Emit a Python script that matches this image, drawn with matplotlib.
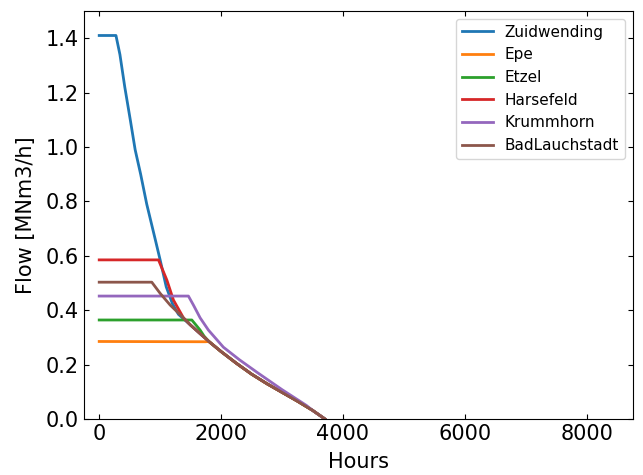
import matplotlib
matplotlib.use('Agg')
import matplotlib.pyplot as plt

# shared decline curve once the storages run out of capacity
common_h = [1300, 1500, 1800, 2000, 2250, 2500, 2750, 3000, 3250, 3500, 3705]
common_f = [0.385, 0.345, 0.285, 0.248, 0.205, 0.165, 0.13, 0.098, 0.066, 0.032, 0.0]

zuid_h = [0, 275, 340, 420, 510, 590, 680, 780, 920, 1000, 1100, 1200]
zuid_f = [1.41, 1.41, 1.34, 1.22, 1.10, 0.99, 0.90, 0.79, 0.66, 0.585, 0.486, 0.425]

epe_h = [0, 1740]
epe_f = [0.285, 0.284]

etzel_h = [0, 1520, 1656, 1720]
etzel_f = [0.364, 0.364, 0.327, 0.305]

hars_h = [0, 973, 1110, 1218, 1382]
hars_f = [0.585, 0.585, 0.511, 0.4375, 0.372]

krum_h = [0, 1464, 1546, 1656, 1792, 2038, 2300, 2600, 3000, 3400]
krum_f = [0.452, 0.452, 0.419, 0.372, 0.327, 0.264, 0.218, 0.17, 0.108, 0.05]

bad_h = [0, 863, 1000, 1164, 1382]
bad_f = [0.503, 0.503, 0.462, 0.419, 0.372]


def extend(h, f):
    # append the part of the shared curve after the last own point
    hh = list(h)
    ff = list(f)
    for x, y in zip(common_h, common_f):
        if x > hh[-1]:
            hh.append(x)
            ff.append(y)
    return hh, ff


series = [
    ('Zuidwending', zuid_h, zuid_f),
    ('Epe', epe_h, epe_f),
    ('Etzel', etzel_h, etzel_f),
    ('Harsefeld', hars_h, hars_f),
    ('Krummhorn', krum_h, krum_f),
    ('BadLauchstadt', bad_h, bad_f),
]
colors = ['#1f77b4', '#ff7f0e', '#2ca02c', '#d62728', '#9467bd', '#8c564b']

fig = plt.figure(figsize=(6.43, 4.75), dpi=100)
ax = fig.add_axes([0.1306, 0.1179, 0.8538, 0.8589])

for (name, h, f), c in zip(series, colors):
    hh, ff = extend(h, f)
    ax.plot(hh, ff, color=c, lw=2, label=name)

ax.set_xlim(-250, 8760)
ax.set_ylim(0, 1.5)
ax.set_xticks([0, 2000, 4000, 6000, 8000])
ax.set_yticks([0.0, 0.2, 0.4, 0.6, 0.8, 1.0, 1.2, 1.4])
ax.tick_params(direction='in', top=True, right=True, labelsize=15)
ax.set_xlabel('Hours', fontsize=15, labelpad=6)
ax.set_ylabel('Flow [MNm3/h]', fontsize=15, labelpad=7)
ax.legend(loc='upper right', fontsize=11)

plt.savefig('out.png', dpi=100)
plt.close()
